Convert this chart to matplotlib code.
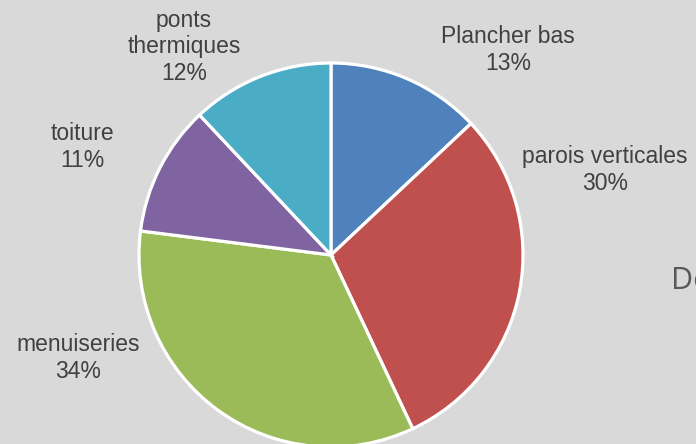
import matplotlib
matplotlib.use("Agg")
import matplotlib.pyplot as plt

categories = ["Plancher bas", "parois verticales", "menuiseries", "toiture", "ponts\nthermiques"]
values = [13, 30, 34, 11, 12]
colors = ["#4f81bd", "#c0504d", "#9bbb59", "#8064a2", "#4bacc6"]
label_pos = [(508, 50), (605, 170), (78, 358), (82, 147), (184, 47)]

W, H = 696, 444
fig = plt.figure(figsize=(W / 100, H / 100), dpi=100)
fig.patch.set_facecolor("#d9d9d9")
ax = fig.add_axes([0, 0, 1, 1])
ax.set_facecolor("#d9d9d9")

ax.pie(values, colors=colors, startangle=90, counterclock=False,
       center=(331, H - 255), radius=192,
       wedgeprops=dict(edgecolor="white", linewidth=2.3), frame=True)
ax.set_xlim(0, W)
ax.set_ylim(0, H)
ax.set_aspect("equal")
ax.axis("off")

total = sum(values)
for cat, v, (x, y) in zip(categories, values, label_pos):
    ax.text(x, H - y, f"{cat}\n{round(100 * v / total)}%", ha="center", va="center",
            fontsize=16.5, color="#404040", family="Liberation Sans", linespacing=1.2)

ax.text(671, H - 281, "De", ha="left", va="center", fontsize=22, color="#595959",
        family="Open Sans")

fig.savefig("out.png", dpi=100, facecolor=fig.get_facecolor())
